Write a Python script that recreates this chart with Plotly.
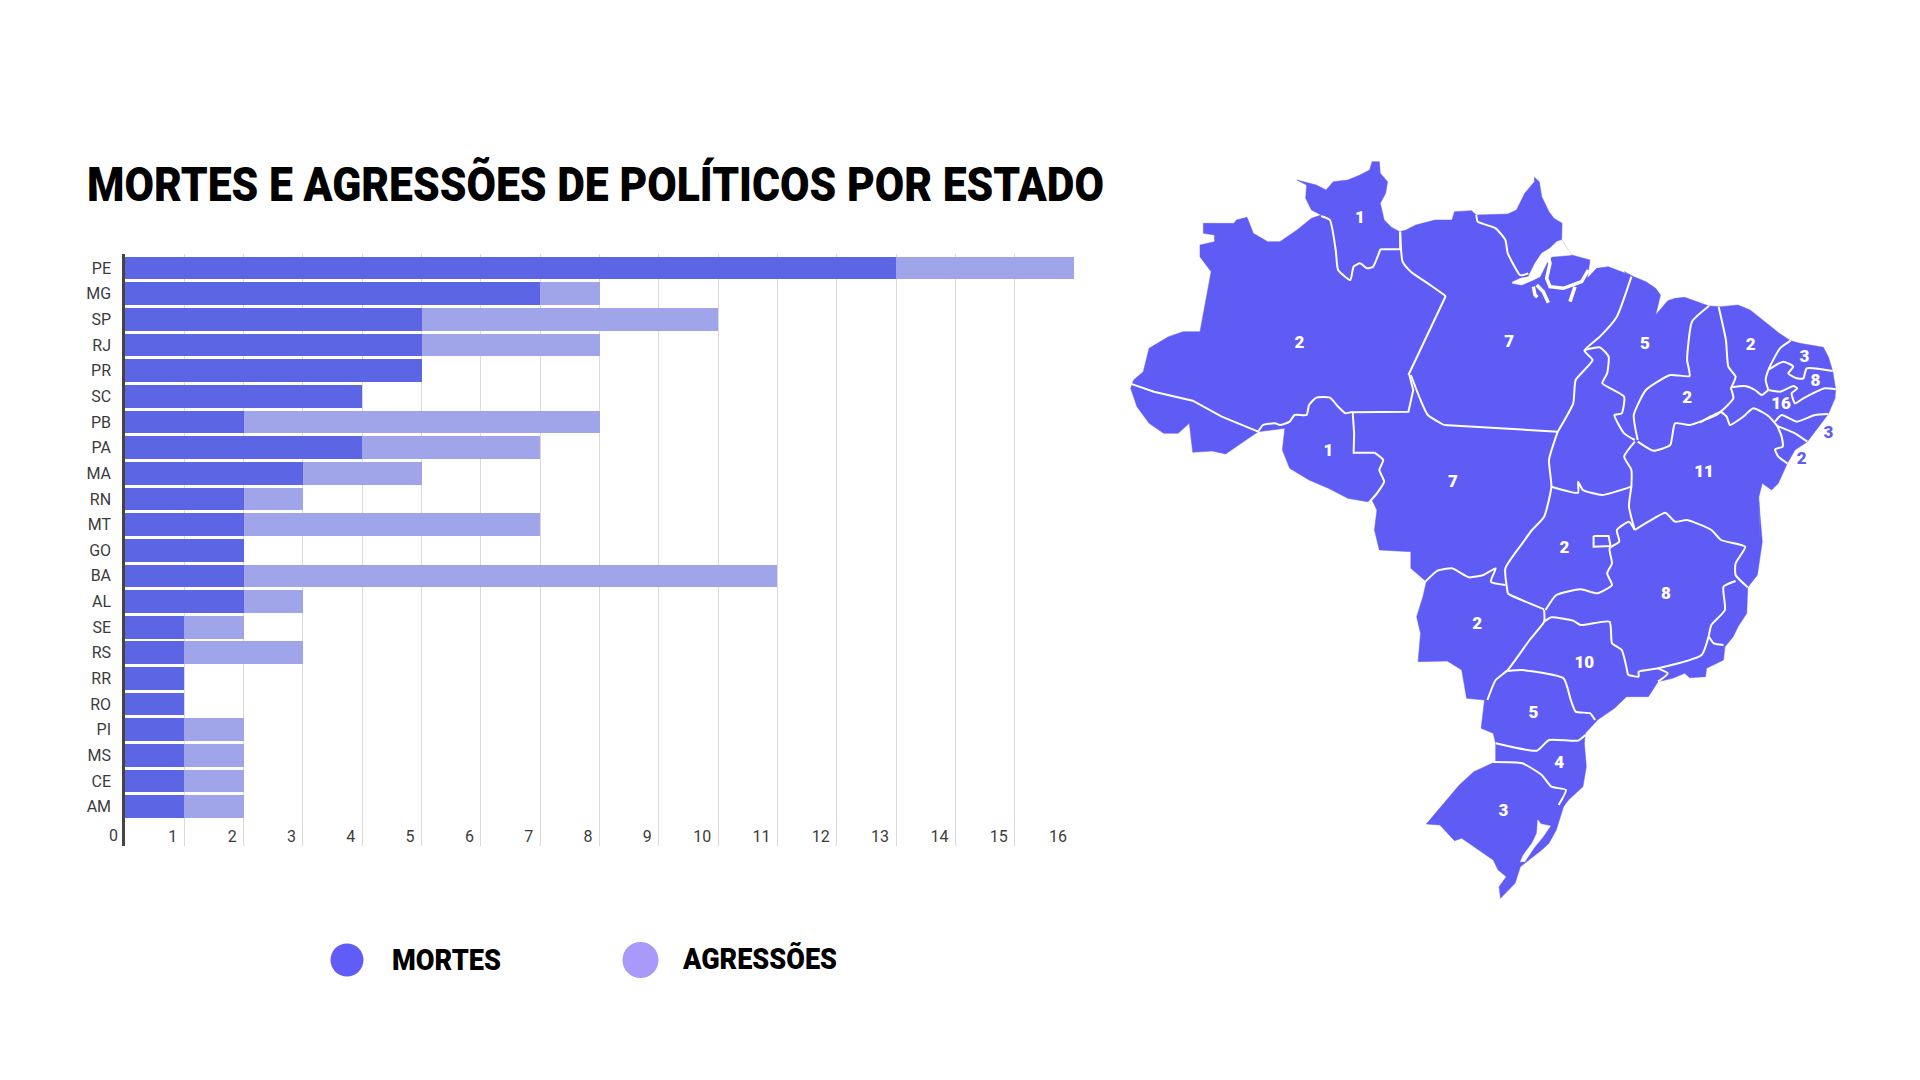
import json
import plotly.graph_objects as go

# ---------- chart data ----------
states = ["PE","MG","SP","RJ","PR","SC","PB","PA","MA","RN","MT","GO","BA","AL","SE","RS","RR","RO","PI","MS","CE","AM"]
mortes = [13,7,5,5,5,4,2,4,3,2,2,2,2,2,1,1,1,1,1,1,1,1]
agressoes = [3,1,5,3,0,0,6,3,2,1,5,0,9,1,1,2,0,0,1,1,1,1]
x_ticks = list(range(1,17))
title_text = "MORTES E AGRESSÕES DE POLÍTICOS POR ESTADO"
legend_names = ["MORTES","AGRESSÕES"]

C_DARK, C_LIGHT = "#5C66E4", "#A0A4E8"
C_MAP, C_LEG1, C_LEG2 = "#5F5CF5", "#5F5CF8", "#A899FB"
TITLE_FONT = "Roboto, sans-serif"

# ---------- map outlines in four tracing frames ----------
def A(p): return [(1120+x/2.063, 140+y/3) for x,y in p]
def B(p): return [(1120+x/2.063, 500+y/3) for x,y in p]
def C(p): return [(1700+x/3, 310+y/3) for x,y in p]
def D(p): return [(1500+x/3, 220+y/3) for x,y in p]

silhouette = (
 A([(365,120),(380,125),(405,135),(425,150),(440,125),(470,120),(495,105),(515,90),(520,65),(535,65),(537,100),(552,125),(548,160),(537,190),(545,240),(560,262),(577,275),
    (590,270),(610,255),(650,240),(685,240),(690,215),(725,212),(735,225),(800,222),(818,210),(835,160),(855,125),(855,112),(865,125),(870,170),(885,215),(895,235),(912,250),(912,275)])
 + D([(185,60),(215,105),(270,120),(262,175),(290,145),(325,140),(365,155),(390,165)])
 + A([(1040,395),(1060,410),(1085,425),(1105,445),(1115,465),(1105,525),(1130,482),(1145,475),(1165,472),(1190,485),(1215,498),(1240,500),(1275,495),(1300,510),(1330,545),(1360,580)])
 + C([(272,92),(300,100),(370,112),(385,140),(398,183),(407,238),(405,265),(385,312),(322,395),(285,420),(262,460),(235,520),(215,540)])
 + A([(1325,1030),(1318,1070),(1318,1130),(1320,1200)])
 + B([(1318,5),(1325,125),(1315,225),(1295,262),(1293,340),(1275,380),(1265,410),(1248,440),(1245,480),(1210,505),(1208,530),(1175,533),(1165,520),(1140,535),(1110,545),(1090,590),(1045,590),(1020,625),(985,660),(960,700),(958,730),(962,800),(955,860),(925,900),(915,920),(900,990),(885,1030),(870,1050),(840,1085),(826,1100),(815,1150),(785,1195),(782,1160),(797,1130),(780,1110),(770,1080),(740,1050),(705,1015),(690,1022),(660,975),(632,972),(670,905),(700,855),(730,815),(770,788),(775,785),(775,730),(770,700),(745,685),(752,600),(715,595),(705,510),(675,483),(615,485),(620,400),(612,350),(625,290),(632,245),(600,205),(600,155),(535,150),(525,90),(530,30),(520,0)])
 + A([(510,1085),(470,1075),(430,1045),(390,1020),(350,985),(335,930),(340,865),(285,875),(250,910),(218,942),(190,933),(150,937),(143,850),(120,880),(90,880),(60,850),(35,800),(22,745),(28,720),(48,695),(60,625),(100,590),(130,575),(165,575),(188,395),(165,350),(165,315),(195,305),(195,285),(172,280),(172,250),(235,250),(240,240),(262,232),(275,280),(305,305),(330,305),(365,270),(395,235),(415,225),(395,210),(383,175),(385,135),(365,120)])
)

straight_borders = [
 A([(20,730),(70,755),(150,782),(210,830),(285,875)]),
 A([(480,817),(595,815),(605,750),(597,705)]),
 A([(595,705),(672,468)]),
 A([(668,855),(903,875)]),
 A([(578,275),(578,328),(537,328)]),
 A([(480,815),(483,880),(482,938),(525,938)]),
 B([(977,108),(1008,108),(1012,138),(977,140),(977,108)]),
]
river_borders = [
 A([(285,875),(295,855),(320,850),(330,855),(350,845),(360,825),(385,825),(390,795),(405,773),(433,773),(450,800),(465,820),(480,815)]),
 A([(525,938),(543,960),(535,990),(545,1025),(530,1060),(515,1085)]),
 A([(672,468),(640,435),(600,395),(583,365),(578,275)]),
 A([(537,328),(522,380),(510,385),(495,370),(482,380),(475,420),(450,390),(445,330),(433,240),(415,228)]),
 A([(600,705),(620,780),(635,825),(668,855)]),
 A([(903,875),(935,790),(940,720),(975,660),(958,632),(990,590),(1025,530),(1055,410)]),
 A([(958,630),(990,622),(1008,650),(1005,700),(995,730),(1040,770),(1035,820),(1020,825),(1040,880),(1062,900)]),
 A([(1215,498),(1180,545),(1170,660),(1175,708),(1135,705),(1085,750),(1060,825),(1068,900)]),
 A([(735,225),(738,245),(775,265),(795,300),(800,340),(825,405)]) + D([(70,165),(85,160)]),
 A([(1235,500),(1250,600),(1255,680),(1270,710),(1262,740)]),
 C([(92,232),(135,228),(165,240),(185,255),(205,240)]),
 C([(272,92),(240,115),(207,175),(197,210),(205,240)]),
 C([(207,178),(250,155),(280,170),(265,190),(290,205),(310,205),(320,175),(398,183)]),
 C([(205,240),(240,245),(280,228),(292,235),(275,250),(285,280),(310,265),(375,235),(407,238)]),
 C([(92,232),(100,265),(62,305),(30,320),(0,338)]),
 C([(62,305),(80,320),(90,345),(130,320),(160,295),(205,318),(232,348)]),
 C([(225,335),(245,315),(290,335),(345,315),(385,312)]),
 C([(232,348),(285,370),(322,395)]),
 C([(232,348),(245,380),(248,410),(225,418),(235,440),(262,460)]),
 A([(1068,905),(1100,932),(1135,915),(1145,850),(1175,855),(1230,825),(1240,815)]),
 A([(1062,905),(1040,950),(1055,990),(1055,1040)]),
 A([(890,1040),(945,1058),(945,1025),(955,1050),(995,1065),(1055,1040)]),
 A([(903,875),(885,960),(890,1040),(875,1130),(850,1170)]) + B([(830,130),(795,205),(800,280)]),
 B([(630,245),(655,212),(685,205),(720,232),(750,225),(775,205),(765,245),(795,255)]),
 B([(800,280),(805,285),(875,328)]),
 A([(1055,1040),(1050,1100),(1062,1170)]),
 B([(1062,90),(1050,65),(1025,90),(1030,125),(1010,145),(1015,190),(1005,220),(1015,255),(985,280),(950,268),(900,285),(878,330)]),
 B([(1062,90),(1090,65),(1125,38),(1145,65),(1170,60),(1220,90),(1240,120),(1290,140),(1270,190),(1270,225),(1295,262)]),
 B([(1270,243),(1245,260),(1248,330),(1220,375),(1215,405)]),
 B([(1215,410),(1225,430),(1245,435)]),
 B([(1215,405),(1200,465),(1110,505),(1070,515),(1070,530),(1048,525)]),
 B([(1048,525),(1035,450),(1015,430),(1010,365),(950,375),(935,362),(890,352),(875,365)]),
 B([(1110,505),(1130,520),(1110,545)]),
 B([(875,330),(875,365),(845,420),(800,510),(775,540),(758,600)]),
 B([(800,513),(830,510),(915,535),(930,600),(940,635),(970,640),(980,660)]),
 B([(775,730),(860,752),(885,720),(945,722),(960,705)]),
 B([(770,786),(830,790),(870,825),(890,860),(920,870),(905,915)]),
]
delta_channels = [
 D([(145,110),(150,130),(140,175),(150,200),(190,205),(245,185),(265,150)]),
 D([(100,200),(105,225),(112,232)]),
 D([(110,195),(130,215),(145,248)]),
 D([(225,200),(210,245)]),
]
water = [
 D([(37,186),(62,175),(85,170),(105,130),(125,100),(150,85),(170,65),(185,60),(215,105),(190,108),(155,110),(140,130),(120,170),(95,182),(65,195),(37,190),(37,186)]),
 B([(862,960),(868,972),(888,978),(872,1012),(855,1042),(835,1085),(826,1085),(832,1065),(850,1030),(860,1000),(862,960)]),
]

# map numbers: total per state, placed where the reference puts them
map_states = ["AM","RR","PA","MA","PI","CE","RN","PB","PE","BA","MT","RO","GO","MG","SP","MS","PR","SC","RS"]
map_values = [2,1,7,5,2,2,3,8,16,11,7,1,2,8,10,2,5,4,3]
map_pos = A([(370,612),(495,237),(803,607),(1083,615),(1170,775)]) + C([(152,107),(313,142),(346,214),(243,285)]) + A([(1205,997),(687,1028),(430,935)]) + B([(917,145),(1126,285),(958,492),(737,373),(853,640),(906,790),(791,935)])
outer_states = ["AL","SE"]
outer_values = [3,2]
outer_pos = C([(385,370),(305,450)])

fig = go.Figure()
fig.add_bar(y=states, x=mortes, orientation="h", name=legend_names[0], marker=dict(color=C_DARK, line_width=0))
fig.add_bar(y=states, x=agressoes, orientation="h", name=legend_names[1], marker=dict(color=C_LIGHT, line_width=0))

ov = dict(xaxis="x2", yaxis="y2", showlegend=False, hoverinfo="skip")
fig.add_scatter(x=[p[0] for p in silhouette], y=[p[1] for p in silhouette], mode="lines", fill="toself",
                fillcolor=C_MAP, line=dict(color=C_MAP, width=0.5), **ov)
for w in water:
    fig.add_scatter(x=[p[0] for p in w], y=[p[1] for p in w], mode="lines", fill="toself",
                    fillcolor="white", line=dict(color="white", width=0.5), **ov)
for b in straight_borders:
    fig.add_scatter(x=[p[0] for p in b], y=[p[1] for p in b], mode="lines", line=dict(color="white", width=2), **ov)
for b in river_borders:
    fig.add_scatter(x=[p[0] for p in b], y=[p[1] for p in b], mode="lines",
                    line=dict(color="white", width=2, shape="spline", smoothing=0.5), **ov)
for b in delta_channels:
    fig.add_scatter(x=[p[0] for p in b], y=[p[1] for p in b], mode="lines", line=dict(color="white", width=3.5), **ov)
fig.add_scatter(x=[p[0] for p in map_pos], y=[p[1] for p in map_pos], mode="text", text=[str(v) for v in map_values],
                textfont=dict(family="Roboto", size=17, color="white", weight=900), customdata=map_states, **ov)
fig.add_scatter(x=[p[0] for p in outer_pos], y=[p[1] for p in outer_pos], mode="text", text=[str(v) for v in outer_values],
                textfont=dict(family="Roboto", size=17, color=C_MAP, weight=900), customdata=outer_states, **ov)

# legend
fig.add_scatter(x=[347,640.5], y=[960,960], mode="markers", marker=dict(size=[33,36], color=[C_LEG1,C_LEG2], opacity=1, line_width=0), **ov)
fig.add_scatter(x=[392,683], y=[963,961.5], mode="text", text=legend_names, textposition="middle right",
                textfont=dict(family=TITLE_FONT, size=29, color="black", weight=900), **ov)

label_font = dict(family="Roboto", size=16, color="#3C3C3C")
fig.update_layout(
    width=1920, height=1080, barmode="stack", bargap=0.115, showlegend=False,
    paper_bgcolor="white", plot_bgcolor="rgba(0,0,0,0)",
    margin=dict(l=0,r=0,t=0,b=0),
    xaxis=dict(domain=[125/1920,1074/1920], range=[0,16], tickvals=x_ticks,
               ticktext=[("\u2007"+str(v) if v<10 else str(v)) for v in x_ticks],
               showgrid=True, gridcolor="#DADADA", gridwidth=1, zeroline=False, showline=False, ticks="",
               ticklabelposition="inside", ticklabelstandoff=-2, ticklabelshift=-16,
               tickfont=label_font, anchor="y"),
    yaxis=dict(domain=[1-846/1080,1-254/1080], type="category", categoryorder="array", categoryarray=states,
               range=[22.53,-0.546], showgrid=False, zeroline=False, showline=True, linecolor="#444444", linewidth=2.5,
               ticks="", ticklabelstandoff=8, tickfont=label_font, anchor="x"),
    xaxis2=dict(domain=[0,1], range=[0,1920], visible=False, anchor="y2"),
    yaxis2=dict(domain=[0,1], range=[1080,0], visible=False, anchor="x2"),
    annotations=[
        dict(text=title_text, xref="paper", yref="paper", x=(87+1104)/2/1920, y=1-185/1080, xanchor="center", yanchor="middle",
             showarrow=False, font=dict(family=TITLE_FONT, size=48, color="black", weight=900)),
        dict(text="0", xref="x", yref="y", x=0, y=22.14, xanchor="right", yanchor="middle", xshift=-5, showarrow=False, font=label_font),
    ],
)

# the reference's lettering is condensed; fit the real text to its measured width
fit = json.dumps({title_text: 1017, legend_names[0]: 109, legend_names[1]: 154}, ensure_ascii=False)
post = ("document.body.style.margin='0';document.body.style.overflow='hidden';"
        "var fit=" + fit + ";document.querySelectorAll('svg text').forEach(function(t){var w=fit[t.textContent];"
        "if(w){t.setAttribute('textLength',w);t.setAttribute('lengthAdjust','spacingAndGlyphs');}});")
fig.write_html("out.html", post_script=post, config={"displayModeBar": False})
